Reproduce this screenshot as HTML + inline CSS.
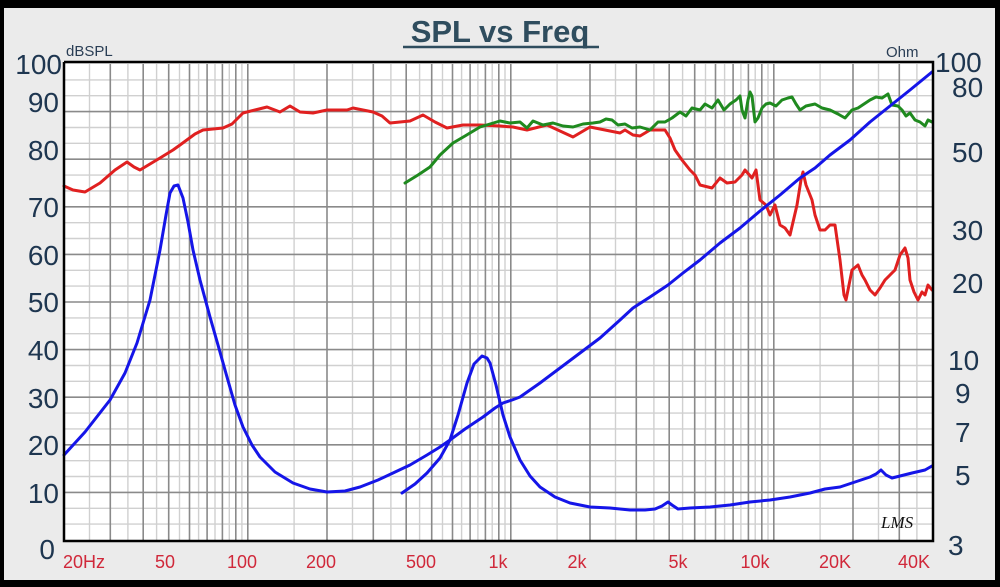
<!DOCTYPE html>
<html><head><meta charset="utf-8"><style>
html,body{margin:0;padding:0;background:#000;}
svg{display:block;}
</style></head><body>
<svg width="1000" height="587" viewBox="0 0 1000 587" xmlns="http://www.w3.org/2000/svg" font-family="Liberation Sans, sans-serif">
<rect x="0" y="0" width="1000" height="587" fill="#000"/>
<rect x="4" y="8" width="991" height="572" fill="#ebebeb"/>
<rect x="64" y="64" width="868" height="476" fill="#fff"/>
<path fill="none" stroke="#d0d0d0" stroke-width="1.4" d="
M89.5 64V540 M127.9 64V540 M156.6 64V540 M179.5 64V540 M198.6 64V540 M215 64V540 M229.3 64V540 M241.9 64V540
M294.1 64V540 M352.5 64V540 M390.9 64V540 M419.6 64V540 M442.5 64V540 M461.6 64V540 M477.9 64V540 M492.2 64V540 M505 64V540
M557.1 64V540 M615.5 64V540 M653.9 64V540 M682.6 64V540 M705.5 64V540 M724.6 64V540 M740.9 64V540 M755.2 64V540 M768 64V540
M820.1 64V540 M878.5 64V540 M916.9 64V540
M64 524.1H932 M64 508.3H932 M64 476.5H932 M64 460.7H932 M64 428.9H932 M64 413.1H932 M64 381.3H932 M64 365.5H932
M64 333.7H932 M64 317.9H932 M64 286.1H932 M64 270.3H932 M64 238.5H932 M64 222.7H932 M64 190.9H932 M64 175.1H932
M64 143.3H932 M64 127.5H932 M64 95.7H932 M64 79.9H932"/>
<path fill="none" stroke="#8a8a8a" stroke-width="1.6" d="
M110.3 64V540 M143.2 64V540 M168.7 64V540 M189.5 64V540 M207.1 64V540 M222.4 64V540 M235.8 64V540 M247.8 64V540
M327 64V540 M373.3 64V540 M406.2 64V540 M431.7 64V540 M452.5 64V540 M470.1 64V540 M485.4 64V540 M498.8 64V540 M510.8 64V540
M590 64V540 M636.3 64V540 M669.2 64V540 M694.7 64V540 M715.5 64V540 M733.1 64V540 M748.4 64V540 M761.8 64V540 M773.8 64V540
M853 64V540 M899.3 64V540
M64 492.4H932 M64 444.8H932 M64 397.2H932 M64 349.6H932 M64 302H932 M64 254.4H932 M64 206.8H932 M64 159.2H932 M64 111.6H932"/>
<g fill="none" stroke-width="3" stroke-linejoin="round" stroke-linecap="round">
<polyline stroke="#e02020" points="64,186 73,190 85,192 100,183 115,170 127,162 134,167 140,170 150,164 160,158 173,150 180,145 195,134 203,130 223,128 232,124 243,113 255,110 267,107 280,112 290,106 300,112 313,113 327,110 347,110 353,108 373,112 382,116 390,123 410,121 423,115 435,122 447,128 463,125 480,125 500,126 513,127 527,130 547,125 560,131 573,137 590,127 605,130 620,133 625,130 633,135 640,136 650,130 665,130 670,138 675,150 682,160 690,170 695,175 700,185 712,188 720,178 727,183 735,182 742,175 745,170 752,178 756,170 760,200 766,205 770,215 775,205 780,225 785,228 790,235 797,205 801,180 803,172 806,185 808,190 812,200 815,215 820,230 825,230 830,225 835,225 840,260 844,295 846,300 852,270 858,265 862,275 865,280 870,290 875,295 880,288 885,280 890,275 895,270 900,255 905,248 908,258 910,280 914,292 918,300 922,292 925,295 928,285 932,290"/>
<polyline stroke="#1f8a1f" points="405,183 418,175 430,167 440,155 453,143 465,136 480,127 490,124 500,121 510,123 520,122 527,128 533,121 543,125 553,123 563,126 573,127 583,124 593,123 600,122 606,119 612,120 618,125 625,124 632,128 640,127 650,130 658,122 665,122 672,118 680,112 686,116 692,108 700,110 705,104 712,108 718,100 724,110 730,104 736,100 740,96 742,110 745,118 748,100 750,92 752,96 755,122 758,118 762,108 766,104 770,103 776,106 782,100 788,98 792,97 796,104 800,110 806,106 815,104 822,108 830,110 838,114 845,118 852,110 858,108 864,104 870,100 876,97 882,98 888,94 892,105 898,106 902,110 906,116 910,113 915,120 920,122 925,126 928,120 932,122"/>
<polyline stroke="#1515e8" points="64,455 85,432 110,400 125,373 137,343 150,300 160,250 166,215 170,193 174,186 178,185 183,198 188,222 193,250 200,280 210,317 218,345 227,377 235,405 243,427 252,445 260,457 275,472 293,483 310,489 327,492 345,491 360,487 378,480 393,473 410,465 427,455 440,447 450,440 465,429 483,417 495,408 503,403 512,400 520,397 540,383 560,368 580,353 600,338 620,320 633,308 650,297 668,285 683,273 700,260 720,243 740,228 760,211 780,195 800,178 815,168 830,155 850,140 870,122 890,106 910,90 932,72"/>
<polyline stroke="#1515e8" points="402,493 415,484 427,473 440,458 450,440 458,415 467,383 474,364 482,356 487,358 490,363 496,385 503,415 510,437 520,460 530,476 540,487 555,497 570,503 590,507 610,508 630,510 645,510 655,509 662,506 668,502 672,505 678,509 690,508 710,507 730,505 750,502 770,500 790,497 810,493 825,489 840,487 855,482 870,477 876,474 881,470 886,475 892,478 900,476 912,473 925,470 932,466"/>
</g>
<polyline fill="none" stroke="#000" stroke-width="2.5" points="64,62 64,541 933,541 933,62 64,62"/>
<text x="881" y="528" font-family="Liberation Serif, serif" font-style="italic" font-size="17" fill="#111">LMS</text>
<text x="500" y="42" text-anchor="middle" font-size="31" font-weight="bold" fill="#2f4d5e">SPL vs Freq</text>
<line x1="403" x2="599" y1="47" y2="47" stroke="#2f4d5e" stroke-width="2.5"/>
<text x="66" y="56" font-size="15" fill="#2a3e55">dBSPL</text>
<text x="886" y="57" font-size="15" fill="#2a3e55">Ohm</text>
<g font-size="28" fill="#1e3650" text-anchor="end">
<text x="62" y="74">100</text><text x="59" y="112">90</text><text x="59" y="160">80</text><text x="59" y="217">70</text><text x="59" y="265">60</text><text x="59" y="312">50</text><text x="59" y="360">40</text><text x="59" y="408">30</text><text x="59" y="455">20</text><text x="59" y="503">10</text><text x="55" y="559">0</text>
</g>
<g font-size="28" fill="#1e3650">
<text x="935" y="72">100</text><text x="952" y="97">80</text><text x="952" y="162">50</text><text x="952" y="240">30</text><text x="952" y="293">20</text><text x="948" y="370">10</text><text x="955" y="403">9</text><text x="955" y="442">7</text><text x="955" y="485">5</text><text x="948" y="555">3</text>
</g>
<g font-size="18" fill="#d0283a" text-anchor="middle">
<text x="84" y="568">20Hz</text><text x="165" y="568">50</text><text x="242" y="568">100</text><text x="321" y="568">200</text><text x="421" y="568">500</text><text x="498" y="568">1k</text><text x="577" y="568">2k</text><text x="678" y="568">5k</text><text x="755" y="568">10k</text><text x="835" y="568">20K</text><text x="914" y="568">40K</text>
</g>
</svg>
</body></html>
